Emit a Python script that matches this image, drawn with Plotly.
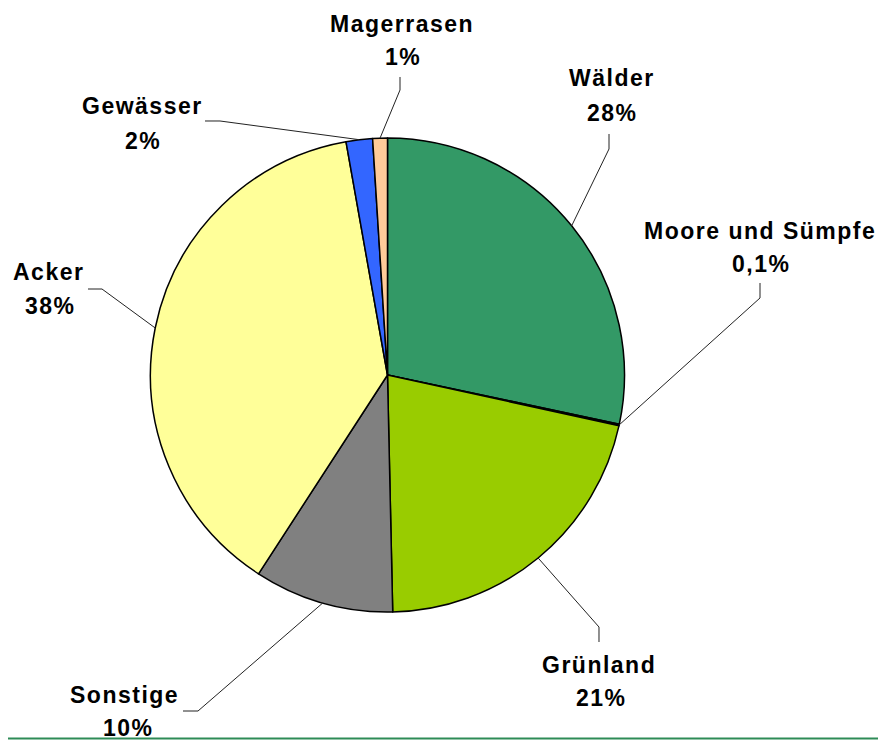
import math
import plotly.graph_objects as go

W, H = 886, 740
OFF = 8  # page body margin offset

categories = ["Wälder", "Moore und Sümpfe", "Grünland", "Sonstige", "Acker", "Gewässer", "Magerrasen"]
values = [28.3, 0.1, 21.2, 9.5, 38.0, 1.8, 1.0]
pct_labels = ["28%", "0,1%", "21%", "10%", "38%", "2%", "1%"]
colors = ["#339966", "#1F4E79", "#99CC00", "#808080", "#FFFF99", "#3366FF", "#FFCC99"]

# layout (pixel) positions of labels and leader-line elbows
CX, CY, R = 387.5, 375, 237
name_pos = {"Wälder": (612, 78), "Moore und Sümpfe": (760, 231), "Grünland": (599, 665),
            "Sonstige": (124, 695), "Acker": (48, 272), "Gewässer": (142, 106), "Magerrasen": (402, 24)}
pct_pos = {"Wälder": (612, 113), "Moore und Sümpfe": (761, 264), "Grünland": (601, 698),
           "Sonstige": (128, 728), "Acker": (50, 306), "Gewässer": (143, 141), "Magerrasen": (403, 57)}
elbows = {"Wälder": [(609, 149), (609, 134)], "Moore und Sümpfe": [(760, 298), (760, 283)],
          "Grünland": [(599, 627), (599, 642)], "Sonstige": [(198, 711), (183, 711)],
          "Acker": [(102, 289), (88, 289)], "Gewässer": [(220, 121), (205, 121)],
          "Magerrasen": [(400, 90), (400, 77)]}


def px(x):
    return (x - OFF) / W


def py(y):
    return 1 - (y - OFF) / H


fig = go.Figure()
fig.add_trace(go.Pie(
    labels=categories, values=values, sort=False, direction="clockwise", rotation=0,
    marker=dict(colors=colors, line=dict(color="black", width=1.5)),
    textinfo="none", hoverinfo="label+percent", showlegend=False,
    domain=dict(x=[px(CX - R), px(CX + R)], y=[py(CY + R), py(CY - R)]),
))

font = dict(family="Liberation Sans, Arial, sans-serif", size=23, color="black")
total = sum(values)
cum = 0
shapes = []
annotations = []
for cat, v, p in zip(categories, values, pct_labels):
    mid = (cum + v / 2) / total * 2 * math.pi
    cum += v
    sx = CX + R * math.sin(mid)
    sy = CY - R * math.cos(mid)
    pts = [(sx, sy)] + elbows[cat]
    path = "M " + " L ".join(f"{px(a):.5f},{py(b):.5f}" for a, b in pts)
    shapes.append(dict(type="path", path=path, xref="paper", yref="paper",
                       line=dict(color="#222222", width=1)))
    for txt, (x, y) in ((cat, name_pos[cat]), (p, pct_pos[cat])):
        annotations.append(dict(
            text=f"<b><span style='letter-spacing:1.5px'>{txt}</span></b>",
            x=px(x), y=py(y), xref="paper", yref="paper", showarrow=False,
            xanchor="center", yanchor="middle", font=font))

# bottom green rule
shapes.append(dict(type="line", xref="paper", yref="paper", x0=0, x1=1,
                   y0=py(738.5), y1=py(738.5), line=dict(color="#2E8B57", width=2)))

fig.update_layout(width=W, height=H, margin=dict(l=0, r=0, t=0, b=0),
                  paper_bgcolor="white", plot_bgcolor="white",
                  shapes=shapes, annotations=annotations)
fig.write_html("out.html")
